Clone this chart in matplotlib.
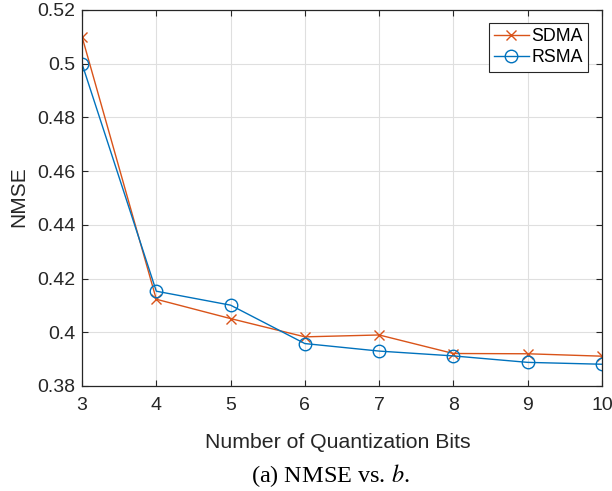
import matplotlib
matplotlib.use("Agg")
import matplotlib.pyplot as plt

bits = [3, 4, 5, 6, 7, 8, 9, 10]
sdma = [0.5101, 0.4123, 0.4051, 0.3983, 0.3990, 0.3921, 0.3920, 0.3911]
rsma = [0.5000, 0.4153, 0.4101, 0.3958, 0.3930, 0.3912, 0.3888, 0.3881]
yticks = [0.38, 0.40, 0.42, 0.44, 0.46, 0.48, 0.50, 0.52]
ytick_labels = ["0.38", "0.4", "0.42", "0.44", "0.46", "0.48", "0.5", "0.52"]

plt.rcParams['font.family'] = ['Liberation Sans', 'DejaVu Sans']

W, H = 612, 491
fig = plt.figure(figsize=(6.12, 4.91), dpi=100)
ax_l, ax_r, ax_t, ax_b = 82, 602, 10, 386
ax = fig.add_axes([ax_l / W, 1 - ax_b / H, (ax_r - ax_l) / W, (ax_b - ax_t) / H])

ax.plot(bits, sdma, color='#D95319', marker='x', markersize=7, markeredgewidth=1.0,
        linewidth=1.0, label='SDMA')
ax.plot(bits, rsma, color='#0072BD', marker='o', markersize=9, markerfacecolor='none',
        markeredgewidth=1.0, linewidth=1.0, label='RSMA')

ax.set_xlim(3, 10)
ax.set_ylim(0.38, 0.52)
ax.set_xticks(bits)
ax.set_yticks(yticks)
ax.set_yticklabels(ytick_labels)
ax.grid(True, color='#dfdfdf', linewidth=0.8)
ax.set_axisbelow(True)
ax.tick_params(direction='in', top=True, right=True, labelsize=14, colors='#262626',
               length=4, width=0.8)
ax.tick_params(axis='x', pad=8)
ax.tick_params(axis='y', pad=5)
for s in ax.spines.values():
    s.set_color('#262626')
    s.set_linewidth(0.9)

ax.set_xlabel('Number of Quantization Bits', fontsize=15.3, color='#262626', va='center')
ax.xaxis.set_label_coords(((ax_l + ax_r) / 2 - 4 - ax_l) / (ax_r - ax_l),
                          (ax_b - 442) / (ax_b - ax_t))
ax.set_ylabel('NMSE', fontsize=15, color='#262626', va='center')
ax.yaxis.set_label_coords((19 - ax_l) / (ax_r - ax_l), (ax_b - 197) / (ax_b - ax_t))

leg = ax.legend(loc='upper right',
                bbox_to_anchor=((588 - ax_l) / (ax_r - ax_l), (ax_b - 23) / (ax_b - ax_t)),
                fontsize=12.8, frameon=True, fancybox=False,
                edgecolor='#262626', framealpha=1, borderpad=0.3, handlelength=1.95,
                handletextpad=0.15, labelspacing=0.22, borderaxespad=0.0)
leg.get_frame().set_linewidth(0.8)

fig.text(330 / W, 1 - 476 / H, '(a) NMSE vs. $b$.', ha='center', va='center', fontsize=17.5,
         family='Liberation Serif', math_fontfamily='stix')

fig.savefig('out.png', dpi=100)
